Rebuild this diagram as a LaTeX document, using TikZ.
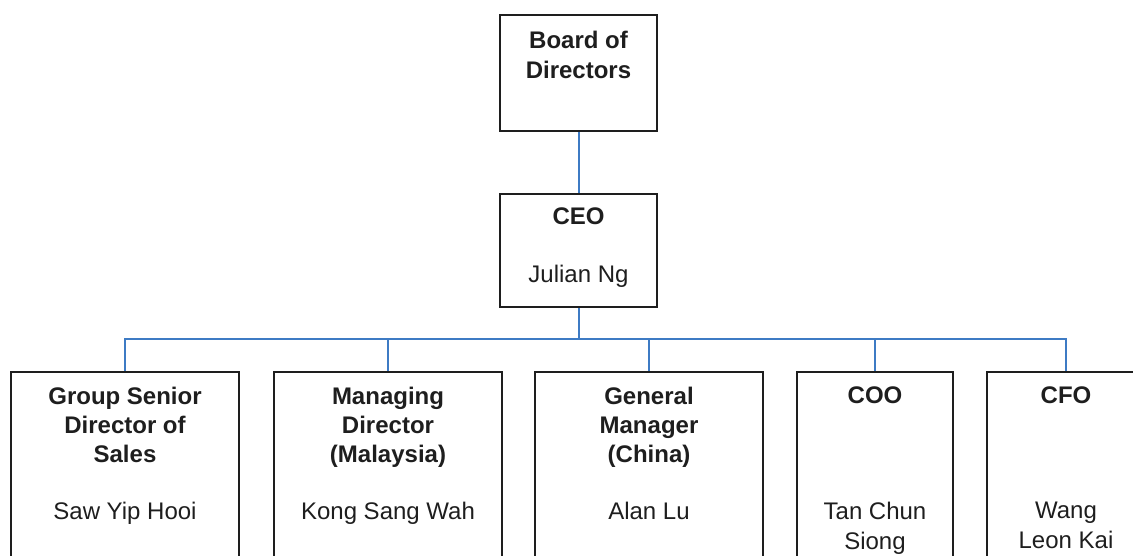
\documentclass[tikz,border=0pt]{standalone}
\usepackage{fontspec}
\setmainfont{Liberation Sans}
\usepackage{tikz}
\usetikzlibrary{calc, positioning}

\definecolor{linkblue}{HTML}{3E7BC4}
\definecolor{boxline}{HTML}{1E1E1E}

\tikzset{
    box/.style={draw=boxline, line width=1.9pt, anchor=north, inner sep=0pt,
        minimum width=#1},
    title/.style={font=\fontsize{24}{29}\selectfont\bfseries, align=center,
        anchor=north, inner sep=0pt, text=boxline},
    person/.style={font=\fontsize{24}{30}\selectfont, align=center,
        anchor=north, inner sep=0pt, text=boxline},
    link/.style={draw=linkblue, line width=2pt}
}

\begin{document}
\begin{tikzpicture}[x=1pt, y=-1pt]
        \useasboundingbox (0, 0) rectangle (1133, 556);
        \clip (0, 0) rectangle (1133, 556);

        % top of the chart
        \node[box=157pt, minimum height=116pt] (board) at (578.5, 14) {};
        \node[title, yshift=-17pt] (boardT) at (board.north) {Board of\\[1pt]Directors};
        \node[box=157pt, minimum height=113pt] (ceo) at (578.5, 193) {};
        \node[title, yshift=-15pt] (ceoT) at (ceo.north) {CEO};
        \node[person, yshift=-72pt] (ceoN) at (ceo.north) {Julian Ng};

        % direct reports of the CEO
        \node[box=228pt, minimum height=230pt] (sales) at (125, 371) {};
        \node[box=228pt, minimum height=230pt] (md) at (388, 371) {};
        \node[box=228pt, minimum height=230pt] (gm) at (649, 371) {};
        \node[box=156pt, minimum height=230pt] (coo) at (875, 371) {};
        \node[box=158pt, minimum height=230pt] (cfo) at (1066, 371) {};

        \node[title, yshift=-16pt] (salesT) at (sales.north) {Group Senior\\Director of\\Sales};
        \node[title, yshift=-16pt] (mdT) at (md.north) {Managing\\Director\\(Malaysia)};
        \node[title, yshift=-16pt] (gmT) at (gm.north) {General\\Manager\\(China)};
        \node[title, yshift=-16pt] (cooT) at (coo.north) {COO};
        \node[title, yshift=-16pt] (cfoT) at (cfo.north) {CFO};

        \node[person, yshift=-131pt] (salesN) at (sales.north) {Saw Yip Hooi};
        \node[person, yshift=-131pt] (mdN) at (md.north) {Kong Sang Wah};
        \node[person, yshift=-131pt] (gmN) at (gm.north) {Alan Lu};
        \node[person, yshift=-131pt] (cooN) at (coo.north) {Tan Chun\\Siong};
        \node[person, yshift=-131pt] (cfoN) at (cfo.north) {Wang\\Leon Kai};

        % connectors
        \coordinate (bus) at (578.5, 339);
        \draw[link] (board.south) -- (ceo.north);
        \draw[link] (ceo.south) -- (bus);
        \foreach \n in {sales, md, gm, coo, cfo}
            \draw[link] (bus) -| (\n.north);
    \end{tikzpicture}
\end{document}
